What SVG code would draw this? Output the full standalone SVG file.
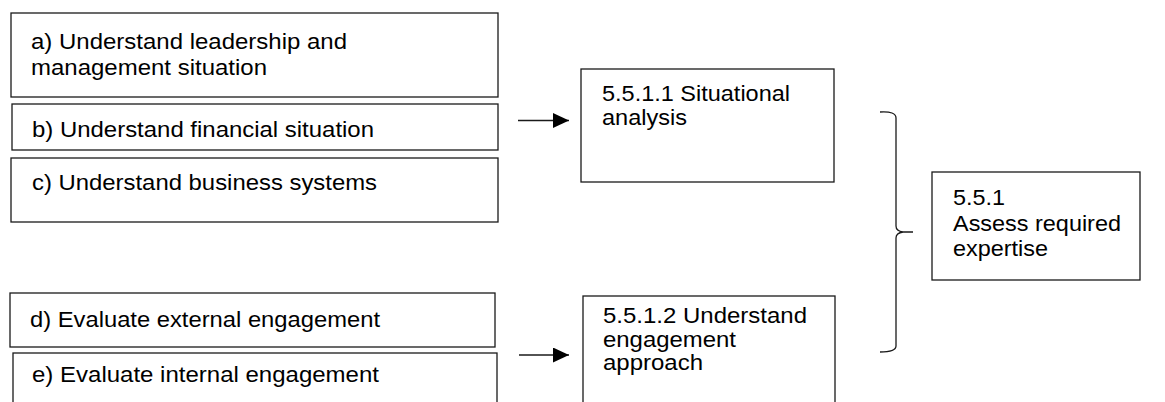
<svg xmlns="http://www.w3.org/2000/svg" width="1165" height="402" viewBox="0 0 1165 402">
  <style>
    .box { fill: #ffffff; stroke: #1a1a1a; stroke-width: 1.3; }
    .lbl { font-family: "Liberation Sans", Arial, sans-serif; font-size: 22px; fill: #000000; }
    .conn { fill: none; stroke: #1a1a1a; stroke-width: 1.3; }
  </style>
  <defs>
    <marker id="arrowhead" markerUnits="userSpaceOnUse" markerWidth="16" markerHeight="15" refX="16" refY="7.5" orient="auto">
      <path d="M0,0 L16,7.5 L0,15 z" fill="#000000"/>
    </marker>
  </defs>

  <rect width="1165" height="402" fill="#ffffff"/>

  <!-- input activities, first group -->
  <g id="node-a">
    <rect class="box" x="11" y="13" width="487" height="84"/>
    <text class="lbl" x="31" y="49" textLength="316" lengthAdjust="spacingAndGlyphs">a) Understand leadership and</text>
    <text class="lbl" x="31" y="75" textLength="236" lengthAdjust="spacingAndGlyphs">management situation</text>
  </g>
  <g id="node-b">
    <rect class="box" x="12" y="104" width="486" height="46"/>
    <text class="lbl" x="32" y="137" textLength="342" lengthAdjust="spacingAndGlyphs">b) Understand financial situation</text>
  </g>
  <g id="node-c">
    <rect class="box" x="11" y="158" width="487" height="64"/>
    <text class="lbl" x="32" y="190" textLength="345" lengthAdjust="spacingAndGlyphs">c) Understand business systems</text>
  </g>

  <!-- input activities, second group -->
  <g id="node-d">
    <rect class="box" x="10" y="293" width="485" height="54"/>
    <text class="lbl" x="30" y="327" textLength="350" lengthAdjust="spacingAndGlyphs">d) Evaluate external engagement</text>
  </g>
  <g id="node-e">
    <rect class="box" x="13" y="353" width="484" height="60"/>
    <text class="lbl" x="32" y="382" textLength="347" lengthAdjust="spacingAndGlyphs">e) Evaluate internal engagement</text>
  </g>

  <!-- sub-steps -->
  <g id="node-5-5-1-1">
    <rect class="box" x="581" y="69" width="253" height="113"/>
    <text class="lbl" x="602" y="101" textLength="188" lengthAdjust="spacingAndGlyphs">5.5.1.1 Situational</text>
    <text class="lbl" x="602" y="124.5" textLength="85" lengthAdjust="spacingAndGlyphs">analysis</text>
  </g>
  <g id="node-5-5-1-2">
    <rect class="box" x="583" y="296" width="252" height="120"/>
    <text class="lbl" x="603" y="323" textLength="204" lengthAdjust="spacingAndGlyphs">5.5.1.2 Understand</text>
    <text class="lbl" x="603" y="346.5" textLength="133" lengthAdjust="spacingAndGlyphs">engagement</text>
    <text class="lbl" x="603" y="370" textLength="100" lengthAdjust="spacingAndGlyphs">approach</text>
  </g>

  <!-- parent step -->
  <g id="node-5-5-1">
    <rect class="box" x="932" y="172" width="208" height="108"/>
    <text class="lbl" x="953" y="205" textLength="52" lengthAdjust="spacingAndGlyphs">5.5.1</text>
    <text class="lbl" x="953" y="230.5" textLength="168" lengthAdjust="spacingAndGlyphs">Assess required</text>
    <text class="lbl" x="953" y="255.5" textLength="95" lengthAdjust="spacingAndGlyphs">expertise</text>
  </g>

  <!-- arrows and grouping brace -->
  <g id="connectors">
    <line class="conn" x1="518" y1="120.5" x2="569" y2="120.5" marker-end="url(#arrowhead)"/>
    <line class="conn" x1="519" y1="355" x2="569" y2="355" marker-end="url(#arrowhead)"/>
    <path class="conn" d="M880,112 Q896,111 896,118 L896,226 Q896,231 903,232 L913,232 M903,232 Q896,233 896,238 L896,346 Q896,352 880,352"/>
  </g>
</svg>
